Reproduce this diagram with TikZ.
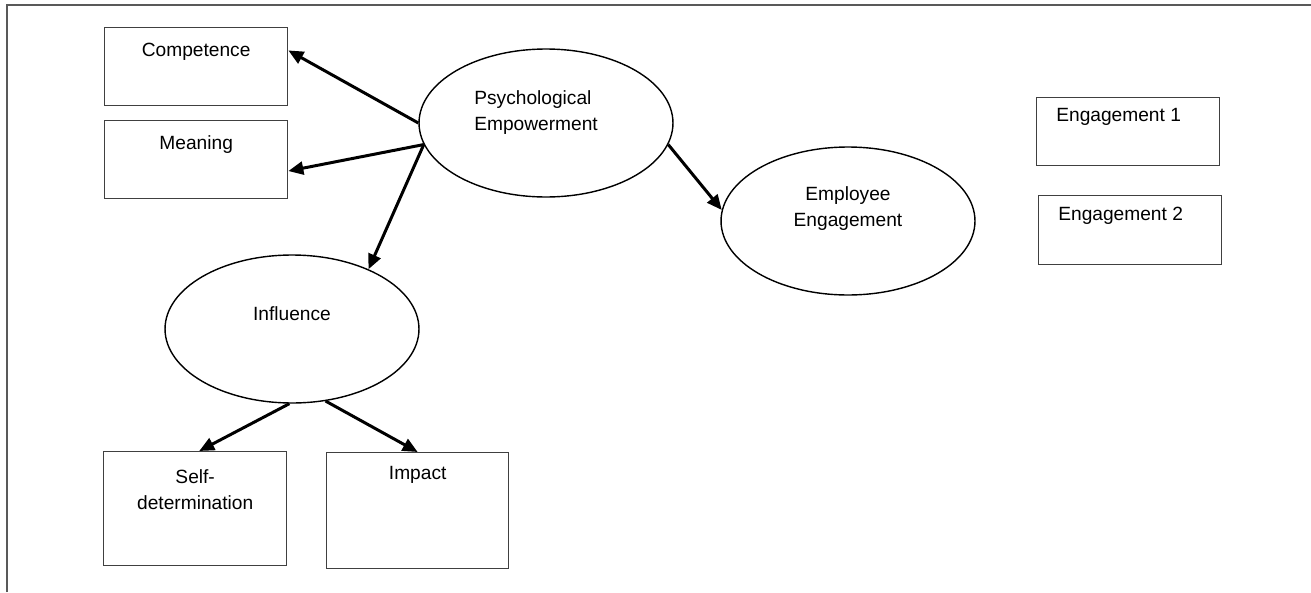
\documentclass[tikz,border=0pt]{standalone}
\usepackage{fontspec}
\setmainfont{Liberation Sans}
\usetikzlibrary{positioning, shapes.geometric, arrows.meta}

\begin{document}
\begin{tikzpicture}[> = {Triangle[length = 0.3cm, width = 0.26cm]},
	x = 0.02cm, y = -0.02cm,
	font = \fontsize{10.9pt}{15pt}\selectfont,
	box/.style = {draw = black!75, line width = 0.8pt, anchor = north west, inner sep = 0pt},
	oval/.style = {draw, ellipse, line width = 0.8pt, minimum width = 5.08cm, minimum height = 2.96cm, inner sep = 0pt},
	boxtext/.style = {anchor = north, inner sep = 0pt, align = center},
	link/.style = {->, line width = 1.7pt}]

	\useasboundingbox (0, 0) rectangle (1311, 592);

	% Page frame (only top and left edges show)

	\draw [black!65, line width = 1.1pt] (7, 592) -- (7, 5) -- (1311, 5);

	% Dimension boxes

	\node (comp) [box, minimum width = 3.66cm, minimum height = 1.56cm] at (104, 27) {};
	\node (mean) [box, minimum width = 3.66cm, minimum height = 1.56cm] at (104, 120) {};
	\node (self) [box, minimum width = 3.66cm, minimum height = 2.28cm] at (103, 451) {};
	\node (impact) [box, minimum width = 3.64cm, minimum height = 2.32cm] at (326, 452) {};
	\node (eng1) [box, minimum width = 3.66cm, minimum height = 1.36cm] at (1036, 97) {};
	\node (eng2) [box, minimum width = 3.66cm, minimum height = 1.38cm] at (1038, 195) {};

	\node (comp-text) [boxtext, below = 0.32cm of comp.north] {Competence};
	\node (mean-text) [boxtext, below = 0.30cm of mean.north] {Meaning};
	\node (self-text) [boxtext, below = 0.36cm of self.north] {Self-\\determination};
	\node (impact-text) [boxtext, below = 0.28cm of impact.north] {Impact};
	\node (eng1-text) [boxtext, anchor = north west, below right = 0.22cm and 0.4cm of eng1.north west] {Engagement 1};
	\node (eng2-text) [boxtext, anchor = north west, below right = 0.24cm and 0.4cm of eng2.north west] {Engagement 2};

	% Latent constructs

	\node (pe) [oval] at (546, 123) {};
	\node (emp) [oval] at (848, 221) {};
	\node (infl) [oval] at (292, 329) {};

	\node (pe-text) [anchor = north west, inner sep = 0pt, align = left] at (474, 90) {Psychological\\Empowerment};
	\node (emp-text) [boxtext, below = 0.8cm of emp.north] {Employee\\Engagement};
	\node (infl-text) [boxtext, below = 1.04cm of infl.north] {Influence};

	% Paths

	\draw [link] (pe.west) -- (comp.10);
	\draw [link] (pe.190) -- (mean.-7);
	\draw [link] (pe.190) -- (infl.38);
	\draw [link] (pe.-10) -- (emp.175);
	\draw [link] (infl.268) -- (self.86);
	\draw [link] (infl.295) -- (impact.north);

\end{tikzpicture}
\end{document}
